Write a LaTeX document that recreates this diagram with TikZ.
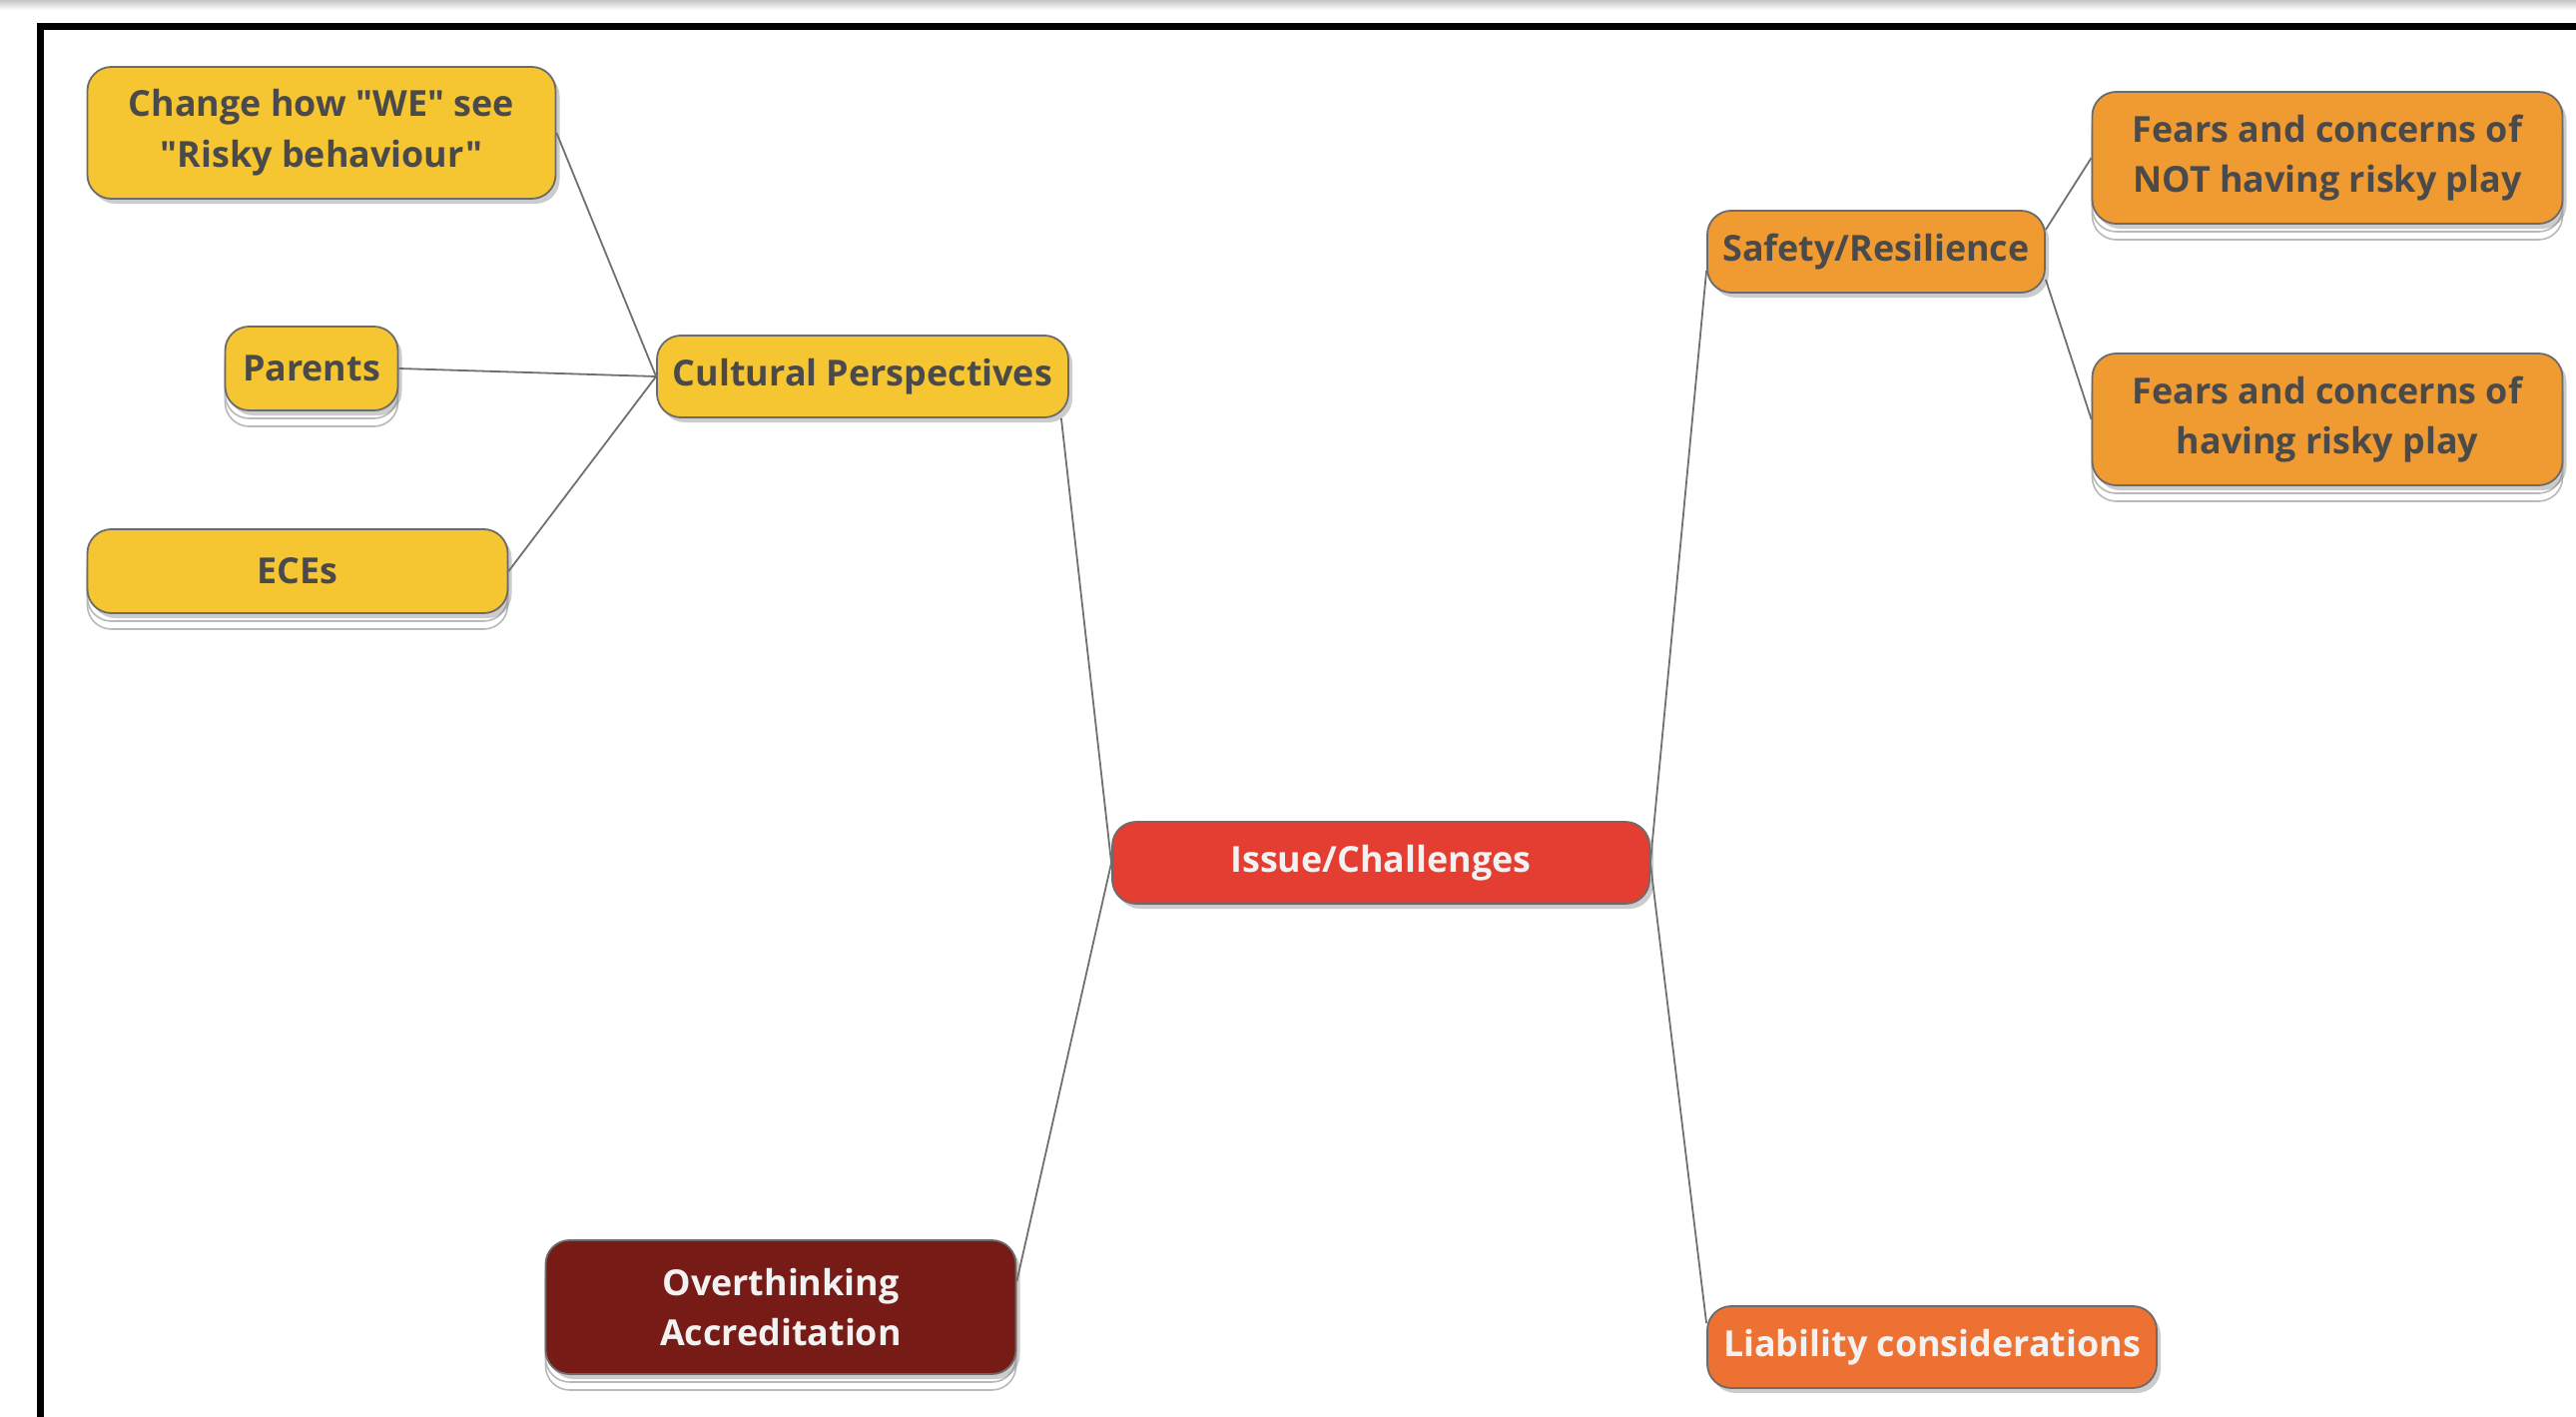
\documentclass[tikz,border=0pt]{standalone}
\usepackage{fontspec}
\setmainfont{Open Sans}[Ligatures=TeXOff]
\usetikzlibrary{shadows,calc}
\definecolor{cyel}{HTML}{F6C532}
\definecolor{corg}{HTML}{F09A32}
\definecolor{cliab}{HTML}{EC7133}
\definecolor{cred}{HTML}{E43E33}
\definecolor{cdark}{HTML}{761B16}
\definecolor{ctext}{HTML}{4A4A4A}
\definecolor{clight}{HTML}{F2F2F2}
\definecolor{cbord}{HTML}{6B6B6B}
\definecolor{cline}{HTML}{707070}
\begin{document}
\begin{tikzpicture}[x=0.5bp,y=-0.5bp,
  box/.style={draw=cbord, line width=0.9bp, rounded corners=12bp, inner sep=0pt, align=center,
    font=\fontsize{18}{25.5}\selectfont\bfseries,
    drop shadow={shadow xshift=2bp,shadow yshift=-2.5bp,opacity=0.4}},
  stack/.style={general shadow={shadow yshift=-8bp, draw=gray!55, fill=white, line width=0.8bp},
    general shadow={shadow yshift=-4bp, draw=gray!55, fill=white, line width=0.8bp}},
  yel/.style={box, fill=cyel, text=ctext},
  org/.style={box, fill=corg, text=ctext},
  conn/.style={draw=cline, line width=0.9bp}]
\useasboundingbox (0,0) rectangle (2580,1419);
\shade[top color=gray!45, bottom color=white] (0,0) rectangle (2580,10);
\draw[line width=3.5bp] (40,1440) -- (40,27) -- (2600,27);

\node[yel, minimum width=234.5bp, minimum height=66bp] (change) at (322,133) {Change how "WE" see\\"Risky behaviour"};
\node[stack, yel, minimum width=86.5bp, minimum height=42bp] (parents) at (312,369) {Parents};
\node[stack, yel, minimum width=210.5bp, minimum height=42bp] (eces) at (298,572) {ECEs};
\node[yel, minimum width=206bp, minimum height=41bp] (cult) at (864,377) {Cultural Perspectives};
\node[box, fill=cred, text=clight, minimum width=269bp, minimum height=41bp] (issue) at (1383,864) {Issue/Challenges};
\node[stack, box, fill=cdark, text=clight, minimum width=235.5bp, minimum height=67bp] (over) at (782,1309) {Overthinking\\Accreditation};
\node[org, minimum width=169bp, minimum height=41bp] (safety) at (1879,252) {Safety/Resilience};
\node[stack, org, minimum width=235.5bp, minimum height=66bp] (fnot) at (2331,158) {Fears and concerns of\\NOT having risky play};
\node[stack, org, minimum width=235.5bp, minimum height=66bp] (fhave) at (2331,420) {Fears and concerns of\\having risky play};
\node[box, fill=cliab, text=clight, minimum width=225bp, minimum height=41bp] (liab) at (1935,1349) {Liability considerations};

\draw[conn] (change.east) -- (cult.west);
\draw[conn] (parents.east) -- (cult.west);
\draw[conn] (eces.east) -- (cult.west);
\draw[conn] ($(cult.south east)+(-8,0)$) -- (issue.west);
\draw[conn] (issue.west) -- ($(over.east)+(0,-26)$);
\draw[conn] (issue.east) -- ($(safety.west)+(0,19)$);
\draw[conn] (issue.east) -- ($(liab.west)+(0,-24)$);
\draw[conn] ($(safety.east)+(0,-22)$) -- (fnot.west);
\draw[conn] ($(safety.east)+(0,28)$) -- (fhave.west);
\end{tikzpicture}
\end{document}
